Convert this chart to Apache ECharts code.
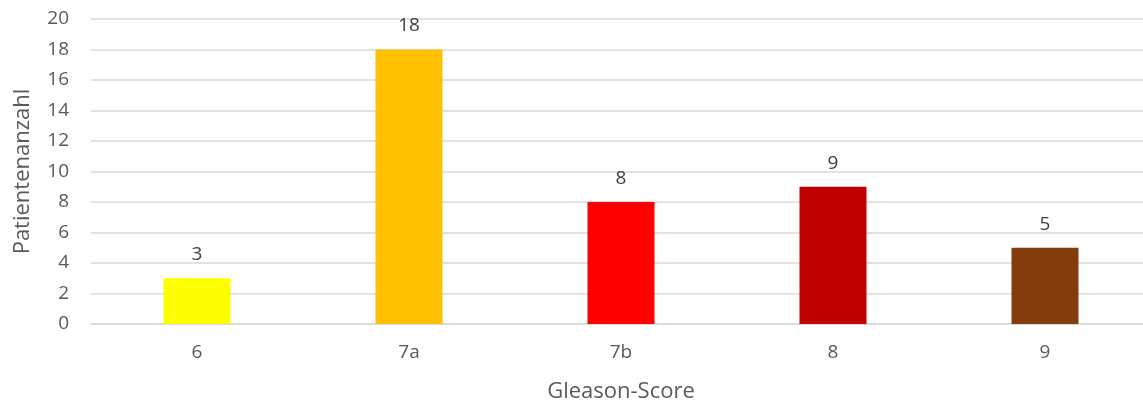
<!DOCTYPE html>
<html>
<head>
<meta charset="utf-8">
<script src="https://cdn.jsdelivr.net/npm/echarts@6/dist/echarts.min.js"></script>
<style>
  html, body { margin: 0; padding: 0; background: #fff; }
  #chart { width: 1143px; height: 405px; }
</style>
</head>
<body>
<div id="chart"></div>
<script>
// Gleason-Score distribution
const categories = ['6', '7a', '7b', '8', '9'];
const patients = [3, 18, 8, 9, 5];
const barColors = ['#FFFF00', '#FFC000', '#FF0000', '#C00000', '#843C0C'];
const yTicks = { min: 0, max: 20, interval: 2 };

const textColor = '#595959';
const gridColor = '#D9D9D9';
const fontFamily = '"Open Sans", "Noto Sans", sans-serif';

const chart = echarts.init(document.getElementById('chart'), null, { renderer: 'canvas' });
chart.setOption({
  animation: false,
  grid: {
    left: 91, top: 19, width: 1060, height: 305,
    containLabel: false,
    outerBoundsMode: 'none'
  },
  xAxis: {
    type: 'category',
    data: categories,
    name: 'Gleason-Score',
    nameLocation: 'middle',
    nameGap: 57,
    nameTextStyle: { color: textColor, fontSize: 22, fontFamily },
    axisLine: { lineStyle: { color: gridColor, width: 1.5 } },
    axisTick: { show: false },
    axisLabel: { color: textColor, fontSize: 19, fontFamily, margin: 19 }
  },
  yAxis: {
    type: 'value',
    min: yTicks.min,
    max: yTicks.max,
    interval: yTicks.interval,
    name: 'Patientenanzahl',
    nameLocation: 'middle',
    nameGap: 57,
    nameRotate: 90,
    nameTextStyle: { color: textColor, fontSize: 22, fontFamily },
    axisLine: { show: false },
    axisTick: { show: false },
    axisLabel: { color: textColor, fontSize: 19, fontFamily, margin: 22 },
    splitLine: { lineStyle: { color: gridColor, width: 1.5 } }
  },
  series: [{
    type: 'bar',
    barWidth: 67,
    data: patients.map((v, i) => ({ value: v, itemStyle: { color: barColors[i] } })),
    label: {
      show: true,
      position: 'top',
      distance: 14,
      color: '#404040',
      fontSize: 19,
      fontFamily
    }
  }]
});
</script>
</body>
</html>
